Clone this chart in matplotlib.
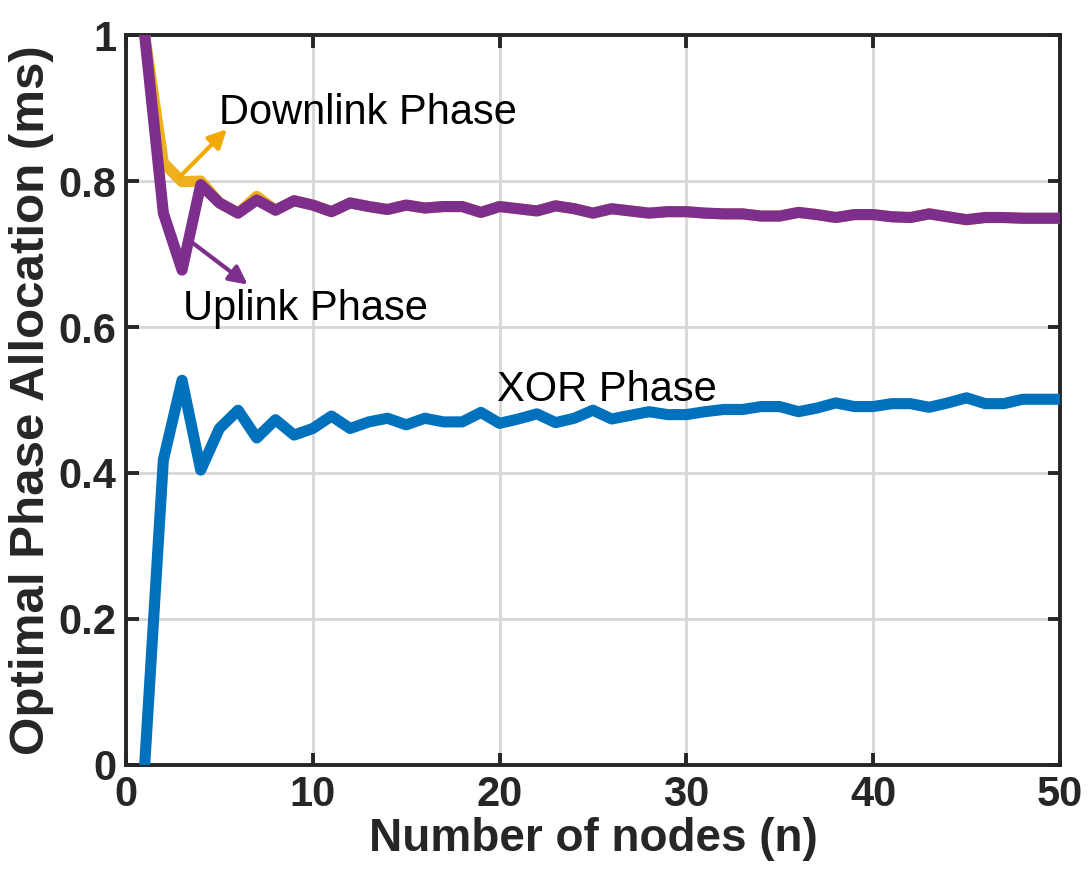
import matplotlib
matplotlib.use("Agg")
import matplotlib.pyplot as plt
import numpy as np

plt.rcParams['font.family'] = ['Liberation Sans', 'DejaVu Sans']

nodes = list(range(1, 51))
xor_phase = [0.0, 0.418, 0.527, 0.404, 0.461, 0.486, 0.448, 0.473, 0.452, 0.461,
             0.478, 0.461, 0.470, 0.475, 0.466, 0.475, 0.470, 0.470, 0.483, 0.468,
             0.474, 0.481, 0.469, 0.475, 0.486, 0.474, 0.479, 0.484, 0.480, 0.480,
             0.484, 0.487, 0.487, 0.491, 0.491, 0.484, 0.489, 0.496, 0.491, 0.491,
             0.495, 0.495, 0.490, 0.496, 0.503, 0.495, 0.495, 0.501, 0.501, 0.501]
uplink_phase = [1.0, 0.756, 0.678, 0.795, 0.770, 0.756, 0.774, 0.760, 0.773, 0.767,
                0.758, 0.770, 0.765, 0.761, 0.767, 0.763, 0.765, 0.765, 0.757, 0.765,
                0.762, 0.759, 0.766, 0.762, 0.756, 0.762, 0.759, 0.756, 0.758, 0.758,
                0.756, 0.755, 0.755, 0.752, 0.752, 0.757, 0.754, 0.750, 0.754, 0.754,
                0.751, 0.750, 0.755, 0.751, 0.747, 0.750, 0.750, 0.749, 0.749, 0.749]
downlink_phase = [1.0, 0.825, 0.799, 0.800, 0.770, 0.756, 0.779, 0.760, 0.773, 0.767,
                  0.758, 0.770, 0.765, 0.761, 0.767, 0.763, 0.765, 0.765, 0.757, 0.765,
                  0.762, 0.759, 0.766, 0.762, 0.756, 0.762, 0.759, 0.756, 0.758, 0.758,
                  0.756, 0.755, 0.755, 0.752, 0.752, 0.757, 0.754, 0.750, 0.754, 0.754,
                  0.751, 0.750, 0.755, 0.751, 0.747, 0.750, 0.750, 0.749, 0.749, 0.749]

xticks = [0, 10, 20, 30, 40, 50]
yticks = [0, 0.2, 0.4, 0.6, 0.8, 1.0]
ytick_labels = ['0', '0.2', '0.4', '0.6', '0.8', '1']

c_blue = '#0072BD'
c_orange = '#EDB120'
c_arrow_orange = '#F2A900'
c_purple = '#7E2F8E'
dark = '#262626'

fig = plt.figure(figsize=(10.91, 8.69), dpi=100)
ax = fig.add_axes([0.1155, 0.1197, 0.856, 0.840])

lw = 8.0
ax.plot(nodes, downlink_phase, color=c_orange, lw=lw, solid_joinstyle='round', zorder=3)
ax.plot(nodes, uplink_phase, color=c_purple, lw=lw, solid_joinstyle='round', zorder=4)
ax.plot(nodes, xor_phase, color=c_blue, lw=lw, solid_joinstyle='round', zorder=4)

ax.set_xlim(0, 50)
ax.set_ylim(0, 1)
ax.set_xticks(xticks)
ax.set_yticks(yticks)
ax.set_yticklabels(ytick_labels)
ax.grid(True, color='#d6d6d6', lw=2)
ax.set_axisbelow(True)
for s in ax.spines.values():
    s.set_linewidth(2.8)
    s.set_color(dark)
ax.tick_params(direction='in', length=9, width=2.8, top=True, right=True,
               labelsize=30, colors=dark, pad=7)
for lab in ax.get_xticklabels() + ax.get_yticklabels():
    lab.set_fontweight('bold')

ax.set_xlabel('Number of nodes (n)', fontsize=33, fontweight='bold', color=dark, labelpad=2)
ax.set_ylabel('Optimal Phase Allocation (ms)', fontsize=35.5, fontweight='bold', color=dark, labelpad=3)

ax.text(5.0, 0.878, 'Downlink Phase', fontsize=30, color='black', zorder=6)
ax.text(3.05, 0.610, 'Uplink Phase', fontsize=30, color='black', zorder=6)
ax.text(19.85, 0.499, 'XOR Phase', fontsize=30, color='black', zorder=6)

ax.annotate('', xy=(5.40, 0.871), xytext=(2.89, 0.806),
            arrowprops=dict(arrowstyle='-|>,head_length=1.1,head_width=0.55',
                            color=c_arrow_orange, lw=3, shrinkA=0, shrinkB=0), zorder=6)
ax.annotate('', xy=(6.52, 0.658), xytext=(3.58, 0.715),
            arrowprops=dict(arrowstyle='-|>,head_length=1.1,head_width=0.55',
                            color=c_purple, lw=3, shrinkA=0, shrinkB=0), zorder=6)

fig.savefig('out.png', dpi=100)
